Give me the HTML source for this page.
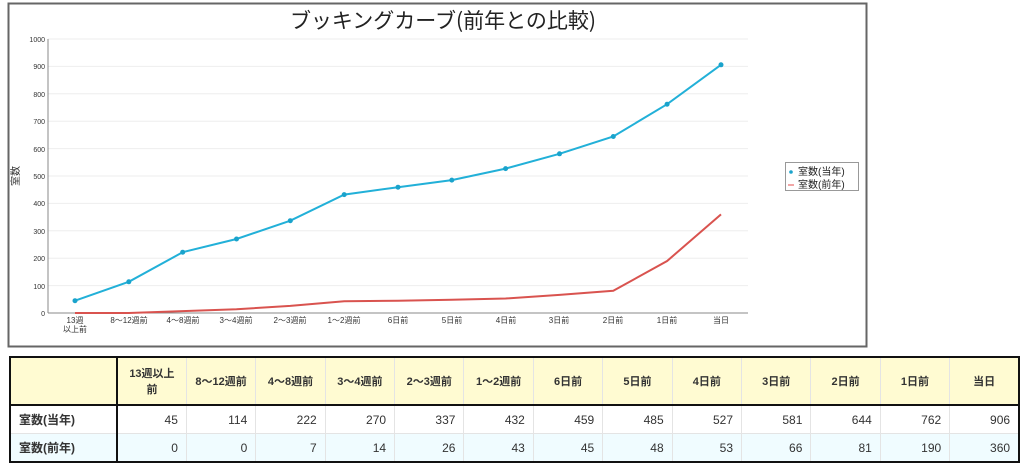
<!DOCTYPE html>
<html><head><meta charset="utf-8"><style>
body{margin:0;background:#fff;width:1024px;height:466px;overflow:hidden;font-family:"Liberation Sans","Noto Sans CJK JP",sans-serif;}
svg{position:absolute;left:0;top:0}
table{position:absolute;left:9px;top:356px;width:1010px;height:105px;border-collapse:collapse;border:2px solid #111;font-size:12px;color:#333;table-layout:fixed}
td,th{border:1px solid #e4e4e4;padding:0 8px}
th{background:#fffbd2;font-weight:bold;text-align:center;height:46px;border-bottom:2px solid #111;font-size:11px;padding:0 3px;white-space:nowrap}
td{text-align:right;height:27px}
td.h{text-align:left;font-weight:bold;border-right:2px solid #111}
th.h{border-right:2px solid #111}
tr.b td{background:#f0fcff}
</style></head><body>
<svg width="1024" height="466" font-family="Liberation Sans, Noto Sans CJK JP, sans-serif">
<rect x="8.5" y="3.5" width="858" height="343" fill="#fff" stroke="#666" stroke-width="2"/>
<text x="443" y="28" font-size="21" text-anchor="middle" fill="#222" font-family="Noto Sans CJK JP, sans-serif">ブッキングカーブ(前年との比較)</text>
<g stroke="#eee" stroke-width="1">
<line x1="48" x2="748" y1="39" y2="39"/><line x1="48" x2="748" y1="66.4" y2="66.4"/><line x1="48" x2="748" y1="93.8" y2="93.8"/><line x1="48" x2="748" y1="121.2" y2="121.2"/><line x1="48" x2="748" y1="148.6" y2="148.6"/><line x1="48" x2="748" y1="176" y2="176"/><line x1="48" x2="748" y1="203.4" y2="203.4"/><line x1="48" x2="748" y1="230.8" y2="230.8"/><line x1="48" x2="748" y1="258.2" y2="258.2"/><line x1="48" x2="748" y1="285.6" y2="285.6"/>
</g>
<g stroke="#888" stroke-width="1"><line x1="48" y1="39" x2="48" y2="313"/><line x1="48" y1="313" x2="748" y2="313"/></g>
<g font-size="7" fill="#333" text-anchor="end">
<text x="45" y="42">1000</text><text x="45" y="69">900</text><text x="45" y="97">800</text><text x="45" y="124">700</text><text x="45" y="152">600</text><text x="45" y="179">500</text><text x="45" y="206">400</text><text x="45" y="234">300</text><text x="45" y="261">200</text><text x="45" y="289">100</text><text x="45" y="316">0</text>
</g>
<text x="19" y="176" font-size="10" fill="#333" transform="rotate(-90 19 176)" text-anchor="middle">室数</text>
<g font-size="8" fill="#333" text-anchor="middle">
<text x="75" y="323">13週</text><text x="75" y="332">以上前</text>
<text x="129" y="323">8～12週前</text><text x="183" y="323">4～8週前</text><text x="236" y="323">3～4週前</text><text x="290" y="323">2～3週前</text><text x="344" y="323">1～2週前</text><text x="398" y="323">6日前</text><text x="452" y="323">5日前</text><text x="506" y="323">4日前</text><text x="559" y="323">3日前</text><text x="613" y="323">2日前</text><text x="667" y="323">1日前</text><text x="721" y="323">当日</text>
</g>
<polyline fill="none" stroke="#d9534f" stroke-width="2" points="75,313 128.8,313 182.7,311.1 236.5,309.2 290.3,305.9 344.2,301.2 398,300.7 451.8,299.8 505.6,298.5 559.5,294.9 613.3,290.8 667.1,261 721,214.4"/>
<polyline fill="none" stroke="#22b0d8" stroke-width="2" points="75,300.7 128.8,281.8 182.7,252.2 236.5,239 290.3,220.7 344.2,194.6 398,187.2 451.8,180.1 505.6,168.6 559.5,153.8 613.3,136.5 667.1,104.2 721,64.8"/>
<g fill="#1aa3cc">
<circle cx="75" cy="300.7" r="2.5"/><circle cx="128.8" cy="281.8" r="2.5"/><circle cx="182.7" cy="252.2" r="2.5"/><circle cx="236.5" cy="239" r="2.5"/><circle cx="290.3" cy="220.7" r="2.5"/><circle cx="344.2" cy="194.6" r="2.5"/><circle cx="398" cy="187.2" r="2.5"/><circle cx="451.8" cy="180.1" r="2.5"/><circle cx="505.6" cy="168.6" r="2.5"/><circle cx="559.5" cy="153.8" r="2.5"/><circle cx="613.3" cy="136.5" r="2.5"/><circle cx="667.1" cy="104.2" r="2.5"/><circle cx="721" cy="64.8" r="2.5"/>
</g>
<rect x="785.5" y="162.5" width="73" height="28" fill="#fff" stroke="#999"/>
<circle cx="791" cy="172" r="1.8" fill="#1aa3cc"/>
<line x1="788" y1="185" x2="794" y2="185" stroke="#e88" stroke-width="1.5"/>
<text x="798" y="175" font-size="10" fill="#222">室数(当年)</text>
<text x="798" y="188" font-size="10" fill="#222">室数(前年)</text>
</svg>
<table>
<colgroup><col style="width:107px"><col span="13" style="width:69.4px"></colgroup>
<tr><th class="h"></th><th>13週以上<br>前</th><th>8～12週前</th><th>4～8週前</th><th>3～4週前</th><th>2～3週前</th><th>1～2週前</th><th>6日前</th><th>5日前</th><th>4日前</th><th>3日前</th><th>2日前</th><th>1日前</th><th>当日</th></tr>
<tr><td class="h">室数(当年)</td><td>45</td><td>114</td><td>222</td><td>270</td><td>337</td><td>432</td><td>459</td><td>485</td><td>527</td><td>581</td><td>644</td><td>762</td><td>906</td></tr>
<tr class="b"><td class="h">室数(前年)</td><td>0</td><td>0</td><td>7</td><td>14</td><td>26</td><td>43</td><td>45</td><td>48</td><td>53</td><td>66</td><td>81</td><td>190</td><td>360</td></tr>
</table>
</body></html>
